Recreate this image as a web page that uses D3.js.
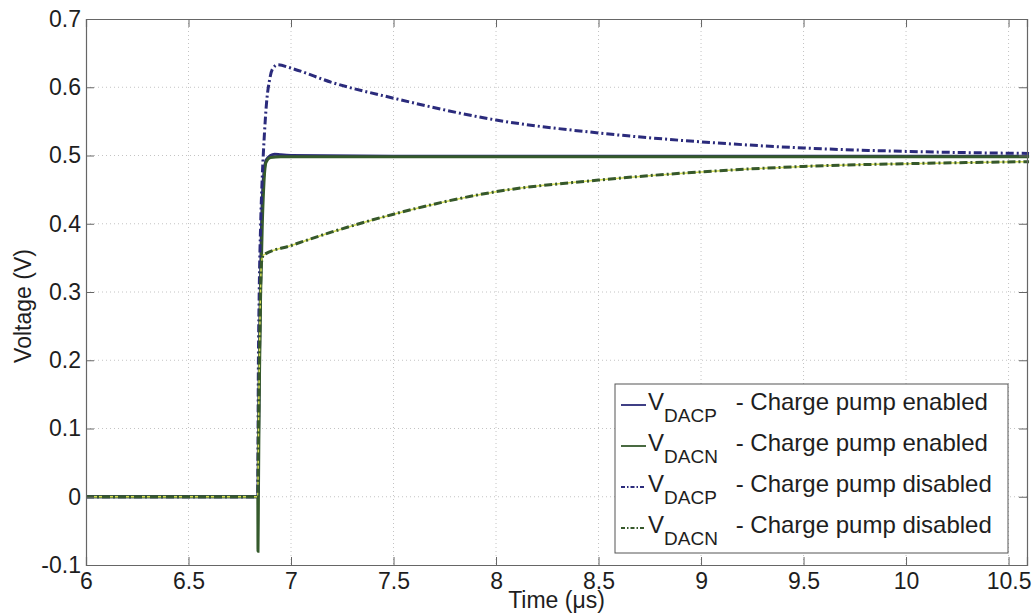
<!DOCTYPE html>
<html>
<head>
<meta charset="utf-8">
<script src="https://cdn.jsdelivr.net/npm/d3@7"></script>
<style>
  body { margin: 0; background: #fff; }
  text { font-family: "Liberation Sans", Arial, sans-serif; fill: #1e1e1e; }
</style>
</head>
<body>
<div id="chart-area"></div>
<script>
// time (us) and voltage (V)
var dacpEnabledT = [6, 6.838, 6.842, 6.848, 6.855, 6.862, 6.87, 6.88, 6.9, 6.92, 6.95, 7.0, 7.5, 8, 9, 10, 10.6];
var dacpEnabledV = [0, 0, 0.1, 0.25, 0.38, 0.45, 0.48, 0.494, 0.5, 0.502, 0.501, 0.5, 0.499, 0.499, 0.499, 0.499, 0.499];

var dacnEnabledT = [6, 6.838, 6.839, 6.841, 6.845, 6.852, 6.86, 6.868, 6.878, 6.9, 6.95, 7.0, 8, 9, 10, 10.6];
var dacnEnabledV = [0, 0, -0.08, 0.0, 0.15, 0.3, 0.4, 0.46, 0.49, 0.497, 0.498, 0.498, 0.498, 0.498, 0.498, 0.498];

var dacpDisabledT = [6, 6.838, 6.84, 6.845, 6.852, 6.86, 6.87, 6.88, 6.895, 6.91, 6.935, 7.0, 7.2, 7.5, 8.0, 8.5, 9.0, 9.5, 10.0, 10.6];
var dacpDisabledV = [0, 0, 0.15, 0.3, 0.4, 0.47, 0.53, 0.575, 0.61, 0.627, 0.633, 0.628, 0.607, 0.584, 0.552, 0.533, 0.52, 0.511, 0.506, 0.503];

var dacnDisabledT = [6, 6.838, 6.842, 6.848, 6.855, 6.865, 7.0, 7.2, 7.5, 8.0, 8.5, 9.0, 9.5, 10.0, 10.6];
var dacnDisabledV = [0, 0, 0.12, 0.25, 0.34, 0.354, 0.368, 0.388, 0.414, 0.447, 0.464, 0.476, 0.484, 0.488, 0.491];

var xTicks = [6, 6.5, 7, 7.5, 8, 8.5, 9, 9.5, 10, 10.5];
var yTicks = [-0.1, 0, 0.1, 0.2, 0.3, 0.4, 0.5, 0.6, 0.7];

var seriesNames = ["DACP", "DACN", "DACP", "DACN"];
var seriesLabels = [" - Charge pump enabled", " - Charge pump enabled", " - Charge pump disabled", " - Charge pump disabled"];

var width = 1035, height = 615;
var margin = {top: 19, right: 8, bottom: 50, left: 86};
var w = width - margin.left - margin.right;
var h = height - margin.top - margin.bottom;

var svg = d3.select("#chart-area").append("svg")
    .attr("width", width)
    .attr("height", height);

var g = svg.append("g")
    .attr("transform", "translate(" + margin.left + "," + margin.top + ")");

var x = d3.scaleLinear().domain([6, 10.59]).range([0, w]);
var y = d3.scaleLinear().domain([-0.1, 0.7]).range([h, 0]);

var fmt = function(d) { return String(+d.toFixed(1)); };

// grid
g.append("g").selectAll("line").data(xTicks.slice(1)).enter().append("line")
    .attr("x1", d => x(d)).attr("x2", d => x(d))
    .attr("y1", 0).attr("y2", h)
    .attr("stroke", "#c4c4c4").attr("stroke-dasharray", "1,3");
g.append("g").selectAll("line").data(yTicks.slice(1, -1)).enter().append("line")
    .attr("y1", d => y(d)).attr("y2", d => y(d))
    .attr("x1", 0).attr("x2", w)
    .attr("stroke", "#c4c4c4").attr("stroke-dasharray", "1,3");

// lines
var line = d3.line()
    .x(d => x(d[0]))
    .y(d => y(d[1]))
    .curve(d3.curveMonotoneX);

function pairs(t, v) { return t.map((d, i) => [d, v[i]]); }

var series = [
  {data: pairs(dacpEnabledT, dacpEnabledV), color: "#2a2a78", dash: null, under: null},
  {data: pairs(dacnEnabledT, dacnEnabledV), color: "#355a2c", dash: null, under: "#c9d64a"},
  {data: pairs(dacpDisabledT, dacpDisabledV), color: "#2b2b7c", dash: "8,3,2,3", under: null},
  {data: pairs(dacnDisabledT, dacnDisabledV), color: "#36582b", dash: "8,3,2,3", under: "#d5de55"}
];

var plot = g.append("g");
series.forEach(function(s) {
  if (s.under) {
    plot.append("path").datum(s.data)
      .attr("d", line).attr("fill", "none")
      .attr("stroke", s.under).attr("stroke-width", 1.5);
  }
  plot.append("path").datum(s.data)
    .attr("d", line).attr("fill", "none")
    .attr("stroke", s.color).attr("stroke-width", 3)
    .attr("stroke-dasharray", s.dash);
});

// axes (ticks inside, box on)
var axisColor = "#666";
var xAxis = g.append("g").attr("transform", "translate(0," + h + ")")
    .call(d3.axisBottom(x).tickValues(xTicks).tickFormat(fmt).tickSize(-8).tickPadding(8));
var yAxis = g.append("g")
    .call(d3.axisLeft(y).tickValues(yTicks).tickFormat(fmt).tickSize(-8).tickPadding(5));
var xTop = g.append("g")
    .call(d3.axisTop(x).tickValues(xTicks).tickFormat("").tickSize(-8));
var yRight = g.append("g").attr("transform", "translate(" + w + ",0)")
    .call(d3.axisRight(y).tickValues(yTicks).tickFormat("").tickSize(-8));

[xAxis, yAxis, xTop, yRight].forEach(function(a) {
  a.select(".domain").attr("stroke", axisColor).attr("stroke-width", 1.2);
  a.selectAll(".tick line").attr("stroke", axisColor);
  a.selectAll("text").attr("font-size", 23).attr("fill", "#1e1e1e")
    .attr("font-family", "Liberation Sans, Arial, sans-serif");
});

// axis labels
svg.append("text")
    .attr("x", margin.left + w / 2)
    .attr("y", 608)
    .attr("text-anchor", "middle")
    .attr("font-size", 23)
    .text("Time (\u03bcs)");

svg.append("text")
    .attr("transform", "translate(31,306) rotate(-90)")
    .attr("text-anchor", "middle")
    .attr("font-size", 23)
    .text("Voltage (V)");

// legend
var legend = svg.append("g").attr("transform", "translate(615,384)");
legend.append("rect")
    .attr("width", 393).attr("height", 169)
    .attr("fill", "#fff").attr("stroke", "#555").attr("stroke-width", 1);

var rows = legend.selectAll("g.row").data(series).enter().append("g")
    .attr("class", "row")
    .attr("transform", (d, i) => "translate(0," + (26 + i * 41) + ")");

rows.append("line")
    .attr("x1", 6).attr("x2", 31).attr("y1", -5).attr("y2", -5)
    .attr("stroke", d => d.color).attr("stroke-width", 1.8)
    .attr("stroke-dasharray", d => d.dash ? "4,2,1.5,2" : null);

var txt = rows.append("text").attr("x", 33).attr("font-size", 24);
txt.append("tspan").text("V");
txt.append("tspan").attr("dy", 12).attr("font-size", 19).text((d, i) => seriesNames[i]);
txt.append("tspan").attr("x", 114).attr("dy", -12).text((d, i) => seriesLabels[i]);
</script>
</body>
</html>
